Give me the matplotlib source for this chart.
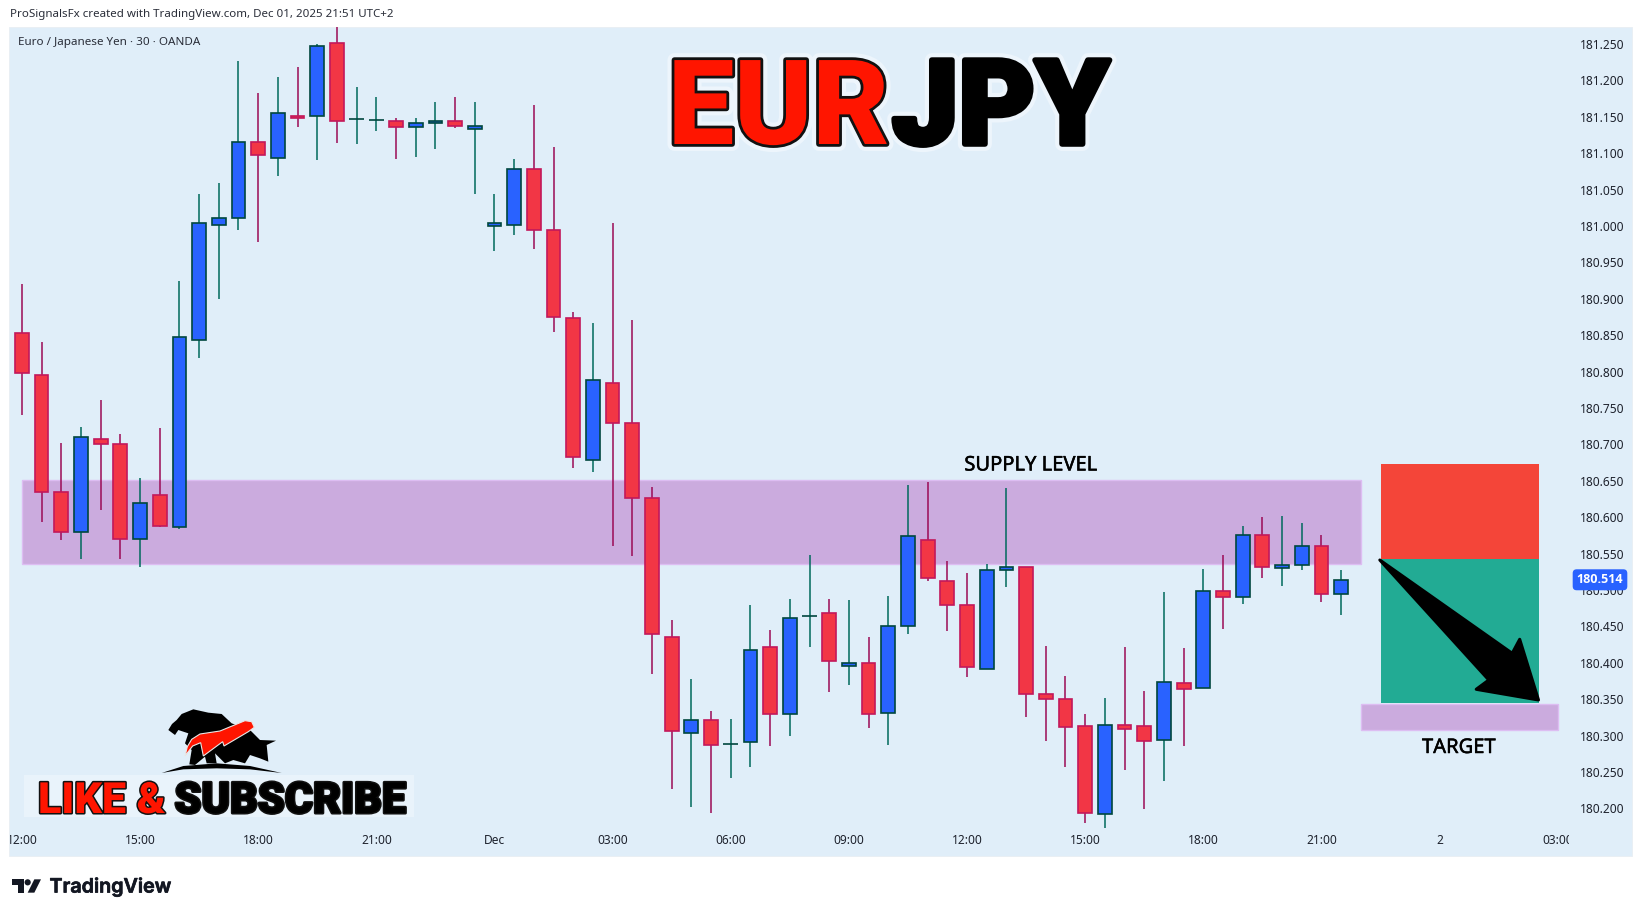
import matplotlib
matplotlib.use('Agg')
import matplotlib.pyplot as plt
import matplotlib.patheffects as pe
from matplotlib.patches import Polygon, Rectangle, Circle
from matplotlib.transforms import Bbox

# ---------- data ----------
opens = [180.853,180.796,180.634,180.579,180.707,180.701,180.570,180.630,180.586,180.844,
         181.002,181.011,181.116,181.094,181.151,181.151,181.251,181.147,181.145,181.144,
         181.136,181.142,181.144,181.133,181.000,181.002,181.078,180.995,180.873,180.679,
         180.785,180.730,180.627,180.436,180.303,180.321,180.288,180.291,180.421,180.329,
         180.464,180.468,180.395,180.399,180.331,180.450,180.568,180.513,180.479,180.391,
         180.527,180.531,180.357,180.350,180.313,180.192,180.315,180.313,180.294,180.372,
         180.365,180.498,180.491,180.575,180.530,180.534,180.561,180.494]
closes = [180.798,180.634,180.579,180.710,180.701,180.570,180.619,180.588,180.848,181.004,
          181.011,181.116,181.098,181.155,181.149,181.247,181.144,181.147,181.145,181.136,
          181.141,181.144,181.138,181.138,181.004,181.078,180.995,180.875,180.682,180.789,
          180.730,180.627,180.439,180.306,180.322,180.287,180.288,180.418,180.329,180.461,
          180.464,180.402,180.399,180.329,180.451,180.574,180.516,180.480,180.394,180.527,
          180.531,180.357,180.350,180.312,180.193,180.314,180.309,180.293,180.373,180.364,
          180.498,180.490,180.575,180.531,180.534,180.561,180.495,180.514]
highs = [180.920,180.841,180.702,180.724,180.761,180.714,180.654,180.722,180.924,181.044,
         181.059,181.227,181.183,181.205,181.218,181.250,181.280,181.191,181.177,181.148,
         181.148,181.170,181.177,181.170,181.044,181.092,181.166,181.109,180.882,180.867,
         181.004,180.871,180.641,180.459,180.378,180.334,180.323,180.479,180.445,180.488,
         180.548,180.488,180.486,180.435,180.492,180.644,180.648,180.540,180.523,180.536,
         180.640,180.531,180.423,180.382,180.330,180.352,180.422,180.361,180.497,180.420,
         180.529,180.548,180.588,180.600,180.602,180.592,180.576,180.527]
lows = [180.740,180.594,180.569,180.543,180.610,180.543,180.531,180.587,180.584,180.819,
        180.900,180.994,180.978,181.069,181.136,181.091,181.114,181.112,181.130,181.092,
        181.095,181.106,181.135,181.044,180.965,180.987,180.969,180.855,180.668,180.662,
        180.561,180.546,180.385,180.226,180.202,180.194,180.242,180.257,180.286,180.300,
        180.421,180.360,180.370,180.311,180.287,180.439,180.513,180.444,180.381,180.391,
        180.504,180.325,180.292,180.257,180.180,180.173,180.252,180.199,180.237,180.285,
        180.365,180.447,180.481,180.517,180.506,180.528,180.484,180.466]
doji_bars = [17, 18, 36, 40]

x_tick_bars = [0, 6, 12, 18, 24, 30, 36, 42, 48, 54, 60, 66, 72, 78]
x_tick_labels = ['12:00','15:00','18:00','21:00','Dec','03:00','06:00','09:00',
                 '12:00','15:00','18:00','21:00','2','03:00']
y_ticks = [180.20,180.25,180.30,180.35,180.40,180.45,180.50,180.55,180.60,180.65,
           180.70,180.75,180.80,180.85,180.90,180.95,181.00,181.05,181.10,181.15,181.20,181.25]

supply_bars, supply_prices = (0, 68), (180.535, 180.651)
stop_bars, stop_prices = (69, 77.05), (180.542, 180.673)
profit_prices = (180.345, 180.542)
target_bars, target_prices = (68, 78), (180.307, 180.344)

# ---------- styles ----------
W, H = 1643, 916
BG = '#E0EEF9'
PURPLE = '#CBABDE'
PURPLE_EDGE = '#DDBDF2'
UP, DOWN = '#2962FF', '#F23645'
UP_EDGE, DOWN_EDGE = '#00473E', '#C2185B'
UP_WICK, DOWN_WICK = '#00695C', '#9C0A55'
TXT = '#1E222D'
FONT = 'Noto Sans'

def fx(x): return x / W
def fy(y): return 1 - y / H
def fp(points): return [(fx(a), fy(b)) for a, b in points]

plt.rcParams['font.family'] = [FONT, 'DejaVu Sans']
fig = plt.figure(figsize=(W / 100, H / 100), dpi=100, facecolor='white')

# chart panel
fig.add_artist(Rectangle((fx(9.3), fy(856)), (1632 - 9.3) / W, (856 - 27) / H,
                         transform=fig.transFigure, fc=BG, ec='#E8EEF3', lw=0.6, zorder=0))

L, R, T, B = 9.3, 1572.0, 27.0, 832.0
ax = fig.add_axes([fx(L), fy(B), (R - L) / W, (B - T) / H], facecolor='none', zorder=2)
ax.set_xlim(-0.64, 78.725)
ax.set_ylim(180.1675, 181.2734)
for s in ax.spines.values():
    s.set_visible(False)

# drawn zones
def zone(bars, prices, fc, ec='none', lw=0):
    ax.add_patch(Rectangle((bars[0], prices[0]), bars[1] - bars[0], prices[1] - prices[0],
                           fc=fc, ec=ec, lw=lw, zorder=1))
zone(supply_bars, supply_prices, PURPLE, PURPLE_EDGE, 1.0)
zone(stop_bars, stop_prices, '#F44539')
zone(stop_bars, profit_prices, '#22AB94')
zone(target_bars, target_prices, PURPLE, PURPLE_EDGE, 1.0)

# candles
for i, (o, h, l, c) in enumerate(zip(opens, highs, lows, closes)):
    up = c >= o
    ax.vlines(i, l, h, color=UP_WICK if up else DOWN_WICK, lw=1.1, zorder=3)
    if i in doji_bars:
        ax.hlines(c, i - 0.37, i + 0.37, color='#00473E', lw=1.2, zorder=4)
    else:
        ax.bar(i, abs(c - o), bottom=min(o, c), width=0.70,
               color=UP if up else DOWN, edgecolor=UP_EDGE if up else DOWN_EDGE,
               linewidth=1.2, zorder=4)

# axes
ax.yaxis.tick_right()
ax.set_yticks(y_ticks)
ax.set_yticklabels([f'{v:.3f}' for v in y_ticks])
ax.set_xticks(x_tick_bars)
ax.set_xticklabels(x_tick_labels)
ax.tick_params(axis='both', length=0, labelsize=8.6, labelcolor=TXT)
ax.tick_params(axis='y', pad=5.5)
ax.tick_params(axis='x', pad=1.5)
clip = Bbox([[9.8, 0], [1568.5, H]])
for lab in ax.get_xticklabels():
    lab.set_clip_box(clip)
    lab.set_clip_on(True)
    if lab.get_text() == 'Dec':
        lab.set_fontweight('bold')

# last price tag
ax.text(1.0 + 28 / (R - L), closes[-1], f'{closes[-1]:.3f}', transform=ax.get_yaxis_transform(),
        ha='center', va='center', color='white', fontsize=9, family='Open Sans', fontweight='bold', zorder=10,
        clip_on=False, bbox=dict(boxstyle='round,pad=0.32', fc=UP, ec='none'))

# annotation labels
heavy = [pe.Stroke(linewidth=0.35, foreground='black'), pe.Normal()]
fig.text(fx(1031), fy(465.5), 'SUPPLY LEVEL', ha='center', va='center', fontsize=14.5, color='black', zorder=5, path_effects=heavy)
fig.text(fx(1459), fy(748), 'TARGET', ha='center', va='center', fontsize=14.5, color='black', zorder=5, path_effects=heavy)

# header texts
fig.text(fx(10), fy(14.7), 'ProSignalsFx created with TradingView.com, Dec 01, 2025 21:51 UTC+2',
         ha='left', va='center', fontsize=8.3, color='#2A2E39')
fig.text(fx(18), fy(43), 'Euro / Japanese Yen \u00b7 30 \u00b7 OANDA',
         ha='left', va='center', fontsize=8.4, color='#2A2E39', zorder=5)

# big title
fig.text(fx(668), fy(144), 'EUR', fontsize=85, family='Roboto', fontweight='black',
         color='#FF1500', ha='left', va='baseline', zorder=5,
         path_effects=[pe.Stroke(linewidth=10, foreground='#EDF5FC'),
                       pe.Stroke(linewidth=4, foreground='#111111'), pe.Normal()])
fig.text(fx(892), fy(144), 'JPY', fontsize=85, family='Roboto', fontweight='black',
         color='black', ha='left', va='baseline', zorder=5,
         path_effects=[pe.Stroke(linewidth=10, foreground='#EDF5FC'),
                       pe.Stroke(linewidth=4, foreground='black'), pe.Normal()])

# arrow decoration
arrow = [(1379.8, 560), (1512.2, 653.3), (1519.7, 639.3), (1538.5, 700), (1476.2, 689.3), (1488.8, 680)]
fig.add_artist(Polygon(fp(arrow), closed=True, transform=fig.transFigure, fc='black', ec='black',
                       lw=2.2, joinstyle='round', zorder=6))

# like & subscribe logo
fig.add_artist(Rectangle((fx(24), fy(817)), 390 / W, 42 / H, transform=fig.transFigure,
                         fc='#E9F3FB', ec='none', zorder=3))
def z7(points): return fp([(150 + a / 3, 700 + b / 3) for a, b in points])
animal = [(55,90),(66,72),(80,60),(95,42),(130,28),(175,38),(215,42),(245,70),(300,90),(330,120),(378,122),
          (350,135),(355,185),(330,175),(300,165),(285,190),(250,180),(225,190),(195,160),(200,190),
          (170,190),(165,170),(135,195),(118,193),(125,150),(105,130),(115,100),(85,90),(75,105)]
red_arrow = [(105,168),(112,140),(125,118),(150,102),(210,93),(285,62),(305,65),(313,82),(295,95),
             (222,138),(218,125),(160,168),(152,128),(128,138)]
ground = [(35,219),(100,198),(200,190),(300,198),(395,219),(300,208),(200,205),(100,208)]
fig.add_artist(Polygon(z7(animal), transform=fig.transFigure, fc='black', ec='none', zorder=4))
fig.add_artist(Polygon(z7(ground), transform=fig.transFigure, fc='black', ec='none', zorder=4))
fig.add_artist(Polygon(z7(red_arrow), transform=fig.transFigure, fc='#FF1500', ec='#E8E8E8', lw=0.8, zorder=5))

sub_fx = [pe.Stroke(linewidth=2.2, foreground='#111111'), pe.Normal()]
fig.text(fx(38), fy(813), 'LIKE &', fontsize=31, family='Roboto', fontweight='black',
         color='#FF1500', ha='left', va='baseline', zorder=6, path_effects=sub_fx)
fig.text(fx(174.5), fy(813), 'SUBSCRIBE', fontsize=31, family='Roboto', fontweight='black',
         color='black', ha='left', va='baseline', zorder=6, path_effects=sub_fx)

# TradingView footer
def z8(points): return fp([(5 + a / 3, 860 + b / 3) for a, b in points])
fig.add_artist(Polygon(z8([(20,58),(58,58),(58,98),(38,98),(38,75),(20,75)]),
                       transform=fig.transFigure, fc='#131722', ec='none'))
fig.add_artist(Polygon(z8([(88,58),(108,58),(88,98),(68,98)]), transform=fig.transFigure, fc='#131722', ec='none'))
cx, cy = z8([(68, 67)])[0]
fig.add_artist(Circle((cx * W, cy * H), 3.1, transform=None, fc='#131722', ec='none'))
fig.text(fx(49.5), fy(892.5), 'TradingView', fontsize=14.2, family='Inter', fontweight='semibold',
         color='#131722', ha='left', va='baseline',
         path_effects=[pe.Stroke(linewidth=0.5, foreground='#131722'), pe.Normal()])

fig.savefig('out.png', dpi=100, facecolor='white')
